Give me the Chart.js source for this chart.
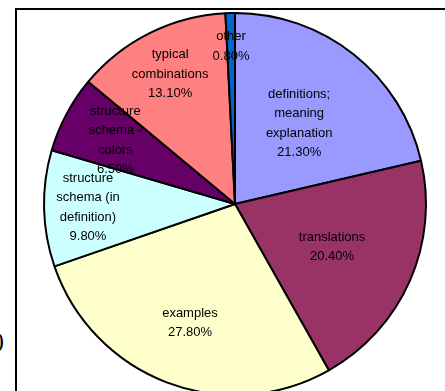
<!DOCTYPE html>
<html>
<head>
<meta charset="utf-8">
<script src="https://cdn.jsdelivr.net/npm/chart.js@4/dist/chart.umd.min.js"></script>
<style>
  html, body { margin: 0; padding: 0; background: #fff; overflow: hidden; width: 445px; height: 391px; }
  #frame { position: absolute; left: 15px; top: 8px; width: 600px; height: 600px;
           border-top: 2px solid #000; border-left: 2px solid #000; }
  #wrap { position: absolute; left: 0; top: 0; width: 445px; height: 420px; }
  #paren { position: absolute; left: -4px; top: 327px; font: 24px "Liberation Serif", serif; color: #000; }
</style>
</head>
<body>
<div id="paren">)</div>
<div id="frame"></div>
<div id="wrap"><canvas id="c" width="445" height="420"></canvas></div>
<script>
// Share of entry components (percent)
const categories = [
  'definitions; meaning explanation',
  'translations',
  'examples',
  'structure schema (in definition)',
  'structure schema - colors',
  'typical combinations',
  'other'
];
const shares = [21.3, 20.4, 27.8, 9.8, 6.5, 13.1, 0.8];

const sliceColors = ['#9999FF', '#993366', '#FFFFCC', '#CCFFFF', '#660066', '#FF8080', '#0066CC'];

// How far out along each slice's middle the label sits (fraction of radius)
const labelDistance = [0.54, 0.555, 0.665, 0.77, 0.71, 0.76, 0.825];

function wrapWords(ctx, text, maxWidth) {
  const words = text.split(' ');
  const lines = [];
  let cur = '';
  for (const w of words) {
    const test = cur ? cur + ' ' + w : w;
    if (cur && ctx.measureText(test).width > maxWidth) {
      lines.push(cur);
      cur = w;
    } else {
      cur = test;
    }
  }
  if (cur) lines.push(cur);
  return lines;
}

const sliceLabels = {
  id: 'sliceLabels',
  afterDatasetsDraw(chart) {
    const ctx = chart.ctx;
    const meta = chart.getDatasetMeta(0);
    ctx.save();
    ctx.font = '13px "Liberation Sans", Arial, sans-serif';
    ctx.fillStyle = '#000';
    ctx.textAlign = 'center';
    ctx.textBaseline = 'middle';
    const lh = 19.5;
    meta.data.forEach((arc, i) => {
      const p = arc.getProps(['x', 'y', 'startAngle', 'endAngle', 'outerRadius'], true);
      const mid = (p.startAngle + p.endAngle) / 2;
      const r = p.outerRadius * labelDistance[i];
      const cx = p.x + Math.cos(mid) * r;
      const cy = p.y + Math.sin(mid) * r;
      const lines = wrapWords(ctx, categories[i], 82);
      lines.push(shares[i].toFixed(2) + '%');
      lines.forEach((ln, j) => {
        ctx.fillText(ln, cx, cy + (j - (lines.length - 1) / 2) * lh);
      });
    });
    ctx.restore();
  }
};

new Chart(document.getElementById('c'), {
  type: 'pie',
  data: {
    labels: categories,
    datasets: [{
      data: shares,
      backgroundColor: sliceColors,
      borderColor: '#000',
      borderWidth: 2,
      hoverOffset: 0
    }]
  },
  options: {
    responsive: false,
    devicePixelRatio: 1,
    animation: false,
    layout: { padding: { left: 43, top: 12, right: 18, bottom: 24 } },
    plugins: {
      legend: { display: false },
      tooltip: { enabled: false }
    }
  },
  plugins: [sliceLabels]
});
</script>
</body>
</html>
